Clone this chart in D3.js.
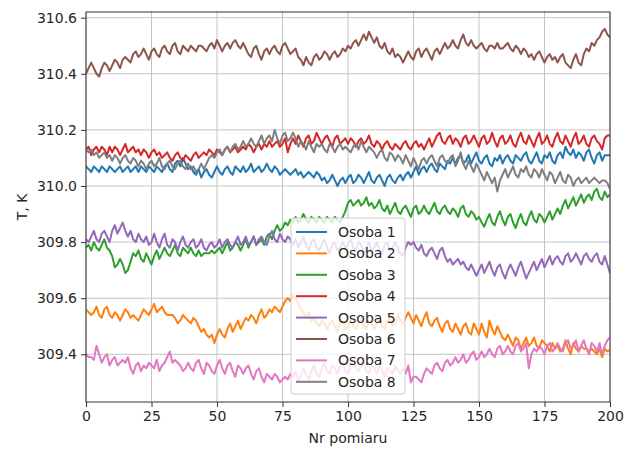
<!DOCTYPE html>
<html>
<head>
<meta charset="utf-8">
<script src="https://cdn.jsdelivr.net/npm/d3@7"></script>
<style>
  body { margin: 0; background: #fff; }
  text { font-family: "DejaVu Sans", sans-serif; fill: #262626; }
</style>
</head>
<body>
<div class="chart"></div>
<script>
var svgWidth = 638;
var svgHeight = 452;

var margin = { top: 12, right: 28, bottom: 50, left: 86 };
var width = svgWidth - margin.left - margin.right;
var height = svgHeight - margin.top - margin.bottom;

// readings, index 0..200
var osoba1 = [
  310.07,310.06,310.05,310.07,310.06,310.05,310.07,310.06,310.05,310.07,
  310.06,310.05,310.06,310.07,310.05,310.06,310.07,310.05,310.06,310.07,
  310.05,310.07,310.06,310.05,310.07,310.06,310.05,310.07,310.06,310.05,
  310.07,310.08,310.06,310.05,310.08,310.09,310.07,310.10,310.08,310.06,
  310.07,310.05,310.04,310.06,310.03,310.05,310.06,310.04,310.03,310.05,
  310.07,310.05,310.04,310.06,310.07,310.05,310.04,310.07,310.06,310.05,
  310.07,310.05,310.06,310.08,310.05,310.06,310.07,310.05,310.06,310.08,
  310.06,310.05,310.07,310.06,310.04,310.05,310.06,310.05,310.04,310.05,
  310.06,310.04,310.05,310.03,310.04,310.05,310.04,310.03,310.05,310.04,
  310.02,310.03,310.01,310.02,310.04,310.02,310.00,310.02,310.03,310.01,
  310.03,310.04,310.01,310.02,310.04,310.03,310.01,310.03,310.05,310.02,
  310.01,310.03,310.04,310.02,310.00,310.03,310.04,310.02,310.01,310.03,
  310.04,310.02,310.04,310.05,310.03,310.05,310.07,310.04,310.06,310.07,
  310.05,310.07,310.08,310.06,310.05,310.08,310.07,310.06,310.09,310.08,
  310.10,310.08,310.10,310.11,310.08,310.09,310.11,310.08,310.10,310.12,
  310.09,310.08,310.10,310.11,310.08,310.07,310.10,310.09,310.11,310.08,
  310.10,310.11,310.09,310.08,310.11,310.10,310.09,310.11,310.12,310.09,
  310.08,310.10,310.12,310.09,310.08,310.11,310.10,310.12,310.09,310.08,
  310.11,310.12,310.10,310.14,310.12,310.11,310.13,310.10,310.12,310.11,
  310.09,310.12,310.13,310.10,310.08,310.11,310.12,310.09,310.11,310.11,310.11
];
var osoba2 = [
  309.56,309.55,309.54,309.55,309.57,309.54,309.53,309.56,309.57,309.54,
  309.53,309.55,309.54,309.52,309.54,309.56,309.55,309.53,309.54,309.53,
  309.52,309.54,309.56,309.55,309.54,309.56,309.58,309.55,309.56,309.57,
  309.55,309.54,309.54,309.54,309.53,309.51,309.52,309.54,309.53,309.52,
  309.51,309.53,309.52,309.50,309.48,309.49,309.47,309.46,309.47,309.44,
  309.47,309.49,309.47,309.46,309.49,309.51,309.48,309.50,309.52,309.49,
  309.51,309.53,309.52,309.54,309.53,309.51,309.54,309.56,309.53,309.54,
  309.56,309.55,309.57,309.56,309.55,309.57,309.59,309.60,309.59,309.61,
  309.60,309.58,309.56,309.55,309.53,309.55,309.52,309.53,309.51,309.50,
  309.52,309.51,309.49,309.51,309.52,309.50,309.48,309.51,309.52,309.49,
  309.50,309.52,309.50,309.49,309.51,309.53,309.50,309.49,309.52,309.51,
  309.49,309.51,309.53,309.50,309.49,309.52,309.53,309.50,309.51,309.54,
  309.52,309.51,309.53,309.55,309.53,309.51,309.54,309.52,309.50,309.53,
  309.55,309.51,309.50,309.52,309.53,309.50,309.48,309.51,309.52,309.49,
  309.48,309.51,309.49,309.47,309.50,309.51,309.48,309.47,309.51,309.49,
  309.47,309.51,309.48,309.46,309.52,309.49,309.47,309.50,309.48,309.46,
  309.45,309.47,309.45,309.43,309.46,309.45,309.42,309.44,309.46,309.43,
  309.44,309.46,309.43,309.42,309.45,309.44,309.43,309.41,309.44,309.42,
  309.43,309.41,309.42,309.45,309.42,309.40,309.44,309.42,309.41,309.43,
  309.42,309.42,309.41,309.42,309.41,309.40,309.42,309.39,309.42,309.41,309.415
];
var osoba3 = [
  309.78,309.79,309.77,309.80,309.78,309.77,309.79,309.81,309.78,309.77,
  309.75,309.71,309.72,309.74,309.72,309.69,309.70,309.73,309.76,309.75,
  309.77,309.74,309.73,309.76,309.74,309.72,309.75,309.77,309.74,309.76,
  309.78,309.76,309.75,309.77,309.79,309.76,309.75,309.78,309.77,309.76,
  309.78,309.76,309.75,309.77,309.75,309.76,309.76,309.76,309.77,309.76,
  309.77,309.78,309.76,309.78,309.80,309.77,309.78,309.80,309.79,309.77,
  309.79,309.81,309.78,309.80,309.82,309.79,309.80,309.81,309.79,309.82,
  309.83,309.81,309.84,309.86,309.84,309.85,309.87,309.86,309.88,309.87,
  309.89,309.87,309.88,309.90,309.88,309.87,309.89,309.88,309.87,309.89,
  309.88,309.87,309.89,309.88,309.87,309.89,309.88,309.87,309.89,309.91,
  309.94,309.95,309.93,309.94,309.95,309.93,309.94,309.96,309.93,309.94,
  309.92,309.93,309.95,309.92,309.91,309.93,309.90,309.92,309.94,309.91,
  309.90,309.92,309.93,309.91,309.89,309.92,309.93,309.90,309.91,309.93,
  309.91,309.90,309.92,309.94,309.91,309.90,309.92,309.93,309.91,309.90,
  309.92,309.91,309.89,309.92,309.93,309.90,309.89,309.91,309.90,309.88,
  309.89,309.87,309.855,309.88,309.90,309.87,309.86,309.89,309.91,309.88,
  309.86,309.89,309.90,309.87,309.85,309.88,309.90,309.87,309.86,309.89,
  309.91,309.88,309.87,309.90,309.89,309.87,309.89,309.91,309.88,309.90,
  309.92,309.90,309.93,309.95,309.92,309.94,309.96,309.93,309.95,309.97,
  309.94,309.96,309.97,309.95,309.98,309.99,309.96,309.95,309.98,309.96,309.97
];
var osoba4 = [
  310.13,310.14,310.11,310.13,310.14,310.12,310.14,310.13,310.11,310.14,
  310.12,310.14,310.13,310.11,310.13,310.15,310.12,310.13,310.14,310.12,
  310.13,310.11,310.13,310.12,310.10,310.12,310.13,310.11,310.12,310.10,
  310.11,310.12,310.10,310.09,310.11,310.12,310.10,310.09,310.11,310.10,
  310.09,310.11,310.12,310.10,310.11,310.12,310.11,310.13,310.12,310.11,
  310.13,310.12,310.11,310.13,310.14,310.12,310.13,310.14,310.12,310.13,
  310.14,310.13,310.15,310.14,310.12,310.14,310.15,310.13,310.15,310.14,
  310.16,310.14,310.15,310.16,310.14,310.15,310.17,310.12,310.15,310.17,
  310.15,310.18,310.16,310.14,310.17,310.18,310.15,310.16,310.19,310.17,
  310.15,310.17,310.18,310.16,310.14,310.17,310.18,310.15,310.16,310.17,
  310.15,310.17,310.16,310.14,310.16,310.17,310.15,310.16,310.18,310.15,
  310.14,310.16,310.15,310.13,310.15,310.16,310.14,310.13,310.15,310.14,
  310.13,310.15,310.16,310.14,310.13,310.15,310.16,310.14,310.15,310.13,
  310.15,310.17,310.14,310.16,310.18,310.19,310.16,310.15,310.17,310.18,
  310.15,310.17,310.16,310.14,310.17,310.18,310.15,310.16,310.18,310.16,
  310.14,310.17,310.18,310.15,310.16,310.19,310.16,310.14,310.17,310.18,
  310.15,310.16,310.18,310.15,310.14,310.17,310.19,310.16,310.15,310.18,
  310.16,310.14,310.17,310.19,310.15,310.16,310.18,310.15,310.14,310.17,
  310.19,310.16,310.15,310.18,310.16,310.14,310.17,310.19,310.15,310.16,
  310.18,310.15,310.14,310.17,310.18,310.16,310.15,310.13,310.17,310.18,310.18
];
var osoba5 = [
  309.81,309.80,309.82,309.84,309.81,309.80,309.83,309.84,309.82,309.80,
  309.84,309.86,309.83,309.85,309.87,309.84,309.82,309.84,309.81,309.80,
  309.83,309.81,309.80,309.82,309.79,309.80,309.83,309.80,309.78,309.81,
  309.83,309.79,309.78,309.81,309.80,309.77,309.80,309.82,309.79,309.78,
  309.80,309.81,309.78,309.79,309.81,309.78,309.77,309.79,309.80,309.78,
  309.79,309.81,309.78,309.80,309.81,309.79,309.78,309.80,309.82,309.79,
  309.80,309.82,309.79,309.80,309.82,309.79,309.81,309.82,309.80,309.79,
  309.82,309.84,309.81,309.80,309.83,309.81,309.80,309.82,309.81,309.79,
  309.81,309.78,309.80,309.82,309.79,309.77,309.80,309.81,309.78,309.77,
  309.79,309.81,309.78,309.76,309.79,309.80,309.77,309.78,309.80,309.78,
  309.79,309.81,309.78,309.77,309.80,309.79,309.76,309.78,309.80,309.77,
  309.78,309.80,309.77,309.76,309.79,309.80,309.77,309.78,309.80,309.78,
  309.76,309.75,309.78,309.80,309.79,309.80,309.78,309.77,309.79,309.76,
  309.75,309.77,309.78,309.76,309.74,309.77,309.78,309.75,309.73,309.74,
  309.72,309.73,309.74,309.72,309.73,309.71,309.70,309.72,309.70,309.68,
  309.70,309.72,309.69,309.71,309.73,309.70,309.68,309.71,309.72,309.69,
  309.67,309.70,309.72,309.70,309.68,309.71,309.73,309.70,309.67,309.69,
  309.71,309.73,309.70,309.72,309.74,309.71,309.73,309.75,309.72,309.74,
  309.75,309.73,309.72,309.75,309.76,309.73,309.74,309.76,309.74,309.72,
  309.75,309.76,309.74,309.73,309.75,309.76,309.73,309.72,309.75,309.72,309.69
];
var osoba6 = [
  310.40,310.42,310.44,310.42,310.40,310.39,310.42,310.44,310.43,310.41,
  310.43,310.45,310.44,310.42,310.45,310.46,310.45,310.44,310.47,310.48,
  310.46,310.47,310.49,310.47,310.45,310.48,310.49,310.47,310.46,310.49,
  310.50,310.48,310.47,310.50,310.51,310.48,310.47,310.50,310.49,310.48,
  310.50,310.49,310.48,310.50,310.50,310.49,310.48,310.50,310.51,310.49,
  310.52,310.50,310.48,310.50,310.51,310.49,310.51,310.52,310.50,310.49,
  310.51,310.49,310.47,310.46,310.49,310.50,310.47,310.45,310.48,310.49,
  310.47,310.49,310.50,310.48,310.47,310.50,310.51,310.49,310.47,310.48,
  310.49,310.46,310.45,310.43,310.46,310.44,310.43,310.46,310.47,310.45,
  310.46,310.48,310.47,310.45,310.47,310.48,310.46,310.47,310.49,310.48,
  310.50,310.49,310.51,310.52,310.50,310.52,310.54,310.52,310.55,310.53,
  310.51,310.53,310.50,310.49,310.51,310.48,310.47,310.49,310.46,310.47,
  310.46,310.44,310.46,310.48,310.46,310.45,310.48,310.49,310.46,310.48,
  310.49,310.47,310.45,310.48,310.49,310.47,310.49,310.51,310.49,310.50,
  310.52,310.50,310.49,310.52,310.54,310.51,310.50,310.52,310.50,310.49,
  310.50,310.51,310.49,310.48,310.50,310.50,310.49,310.51,310.49,310.49,
  310.50,310.51,310.49,310.48,310.50,310.49,310.47,310.49,310.48,310.46,
  310.47,310.45,310.47,310.48,310.46,310.44,310.46,310.47,310.45,310.46,
  310.44,310.46,310.47,310.44,310.43,310.42,310.45,310.47,310.44,310.43,
  310.47,310.49,310.48,310.51,310.50,310.52,310.53,310.55,310.56,310.54,310.53
];
var osoba7 = [
  309.40,309.39,309.39,309.38,309.43,309.40,309.37,309.39,309.40,309.36,
  309.38,309.39,309.36,309.37,309.38,309.37,309.39,309.35,309.33,309.36,
  309.37,309.34,309.36,309.35,309.37,309.36,309.35,309.38,309.34,309.36,
  309.37,309.39,309.41,309.37,309.38,309.37,309.36,309.34,309.35,309.37,
  309.35,309.34,309.37,309.38,309.35,309.33,309.37,309.36,309.34,309.33,
  309.36,309.38,309.35,309.33,309.36,309.37,309.34,309.32,309.36,309.35,
  309.33,309.35,309.36,309.33,309.31,309.34,309.35,309.32,309.30,309.33,
  309.32,309.31,309.33,309.32,309.30,309.31,309.32,309.31,309.33,309.32,
  309.34,309.31,309.32,309.35,309.33,309.31,309.34,309.36,309.33,309.32,
  309.35,309.37,309.34,309.33,309.36,309.35,309.33,309.36,309.37,309.34,
  309.33,309.36,309.38,309.35,309.34,309.36,309.37,309.34,309.33,309.36,
  309.35,309.33,309.36,309.34,309.32,309.35,309.34,309.33,309.36,309.34,
  309.33,309.35,309.33,309.36,309.30,309.32,309.32,309.31,309.30,309.33,
  309.35,309.34,309.33,309.36,309.37,309.35,309.34,309.37,309.38,309.36,
  309.37,309.39,309.37,309.38,309.40,309.37,309.38,309.40,309.41,309.38,
  309.39,309.41,309.39,309.40,309.42,309.40,309.39,309.42,309.43,309.40,
  309.41,309.43,309.41,309.40,309.43,309.44,309.41,309.42,309.44,309.35,
  309.40,309.42,309.41,309.43,309.42,309.40,309.43,309.44,309.41,309.42,
  309.44,309.42,309.41,309.44,309.45,309.42,309.43,309.45,309.41,309.43,
  309.45,309.42,309.40,309.44,309.43,309.41,309.44,309.40,309.43,309.45,309.46
];
var osoba8 = [
  310.13,310.12,310.13,310.11,310.12,310.10,310.11,310.12,310.10,310.11,
  310.09,310.11,310.10,310.08,310.10,310.11,310.09,310.08,310.10,310.09,
  310.07,310.09,310.08,310.06,310.08,310.09,310.07,310.08,310.10,310.07,
  310.06,310.08,310.09,310.07,310.06,310.08,310.09,310.07,310.06,310.08,
  310.06,310.07,310.05,310.06,310.08,310.06,310.08,310.10,310.11,310.10,
  310.12,310.13,310.11,310.13,310.14,310.12,310.14,310.15,310.13,310.14,
  310.16,310.14,310.15,310.17,310.15,310.14,310.16,310.18,310.15,310.17,
  310.18,310.16,310.20,310.17,310.15,310.18,310.19,310.16,310.17,310.19,
  310.17,310.14,310.16,310.15,310.13,310.16,310.14,310.12,310.15,310.14,
  310.15,310.13,310.12,310.15,310.14,310.12,310.14,310.15,310.13,310.14,
  310.13,310.12,310.14,310.15,310.13,310.16,310.14,310.12,310.14,310.13,
  310.12,310.10,310.12,310.13,310.10,310.09,310.12,310.11,310.09,310.11,
  310.10,310.08,310.11,310.09,310.07,310.10,310.08,310.06,310.09,310.10,
  310.08,310.10,310.11,310.09,310.07,310.10,310.11,310.09,310.08,310.10,
  310.11,310.07,310.09,310.12,310.08,310.06,310.09,310.07,310.05,310.08,
  310.06,310.04,310.02,310.05,310.03,310.01,310.03,309.98,310.02,310.04,
  310.06,310.03,310.05,310.07,310.04,310.03,310.06,310.05,310.07,310.04,
  310.03,310.06,310.05,310.03,310.06,310.04,310.02,310.05,310.04,310.01,
  310.03,310.05,310.02,310.01,310.04,310.03,310.00,310.02,310.03,310.01,
  310.02,310.03,310.01,310.02,310.03,310.02,310.01,310.02,310.02,310.01,309.99
];

var seriesNames = ["Osoba 1", "Osoba 2", "Osoba 3", "Osoba 4", "Osoba 5", "Osoba 6", "Osoba 7", "Osoba 8"];
var seriesValues = [osoba1, osoba2, osoba3, osoba4, osoba5, osoba6, osoba7, osoba8];
var colors = ["#1f77b4", "#ff7f0e", "#2ca02c", "#d62728", "#9467bd", "#8c564b", "#e377c2", "#7f7f7f"];

var xTicks = [0, 25, 50, 75, 100, 125, 150, 175, 200];
var yTicks = [309.4, 309.6, 309.8, 310.0, 310.2, 310.4, 310.6];

var svg = d3.select(".chart")
  .append("svg")
  .attr("width", svgWidth)
  .attr("height", svgHeight);

var chartGroup = svg.append("g")
  .attr("transform", `translate(${margin.left}, ${margin.top})`);

var xScale = d3.scaleLinear().domain([0, 200]).range([0, width]);
var yScale = d3.scaleLinear().domain([309.2299, 310.6203]).range([height, 0]);

// grid
chartGroup.append("g")
  .selectAll("line.vx")
  .data(xTicks)
  .enter()
  .append("line")
  .attr("x1", d => xScale(d)).attr("x2", d => xScale(d))
  .attr("y1", 0).attr("y2", height)
  .attr("stroke", "#c4c4c4").attr("stroke-width", 1);

chartGroup.append("g")
  .selectAll("line.hy")
  .data(yTicks)
  .enter()
  .append("line")
  .attr("x1", 0).attr("x2", width)
  .attr("y1", d => yScale(d)).attr("y2", d => yScale(d))
  .attr("stroke", "#c4c4c4").attr("stroke-width", 1);

svg.append("defs").append("clipPath").attr("id", "clip")
  .append("rect").attr("width", width).attr("height", height);

var line = d3.line()
  .x((d, i) => xScale(i))
  .y(d => yScale(d));

var linesGroup = chartGroup.append("g").attr("clip-path", "url(#clip)");
seriesValues.forEach(function(vals, k) {
  linesGroup.append("path")
    .datum(vals)
    .attr("d", line)
    .attr("fill", "none")
    .attr("stroke", colors[k])
    .attr("stroke-width", 2)
    .attr("stroke-linejoin", "round")
    .attr("stroke-linecap", "square");
});

// axes
var bottomAxis = d3.axisBottom(xScale).tickValues(xTicks).tickSize(5).tickPadding(4)
  .tickFormat(d3.format("d"));
var leftAxis = d3.axisLeft(yScale).tickValues(yTicks).tickSize(5).tickPadding(4)
  .tickFormat(d3.format(".1f"));

var xAxis = chartGroup.append("g")
  .attr("transform", `translate(0, ${height})`)
  .call(bottomAxis);
var yAxis = chartGroup.append("g")
  .call(leftAxis);

[xAxis, yAxis].forEach(function(ax) {
  ax.select(".domain").remove();
  ax.selectAll(".tick line").attr("stroke", "#333").attr("stroke-width", 1);
  ax.selectAll(".tick text")
    .attr("font-family", "DejaVu Sans")
    .attr("font-size", "14px")
    .attr("fill", "#262626");
});

// frame
chartGroup.append("rect")
  .attr("x", 0).attr("y", 0)
  .attr("width", width).attr("height", height)
  .attr("fill", "none")
  .attr("stroke", "#333")
  .attr("stroke-width", 1);

// axis labels
svg.append("text")
  .attr("x", margin.left + width / 2)
  .attr("y", 443)
  .attr("text-anchor", "middle")
  .attr("font-size", "14px")
  .text("Nr pomiaru");

svg.append("text")
  .attr("transform", "rotate(-90)")
  .attr("x", -(margin.top + height / 2))
  .attr("y", 27)
  .attr("text-anchor", "middle")
  .attr("font-size", "14px")
  .text("T, K");

// legend
var legend = svg.append("g").attr("transform", "translate(291, 218)");
legend.append("rect")
  .attr("width", 114).attr("height", 176)
  .attr("rx", 3).attr("ry", 3)
  .attr("fill", "#fff").attr("fill-opacity", 0.8)
  .attr("stroke", "#cccccc").attr("stroke-width", 1);

var entries = legend.selectAll("g.entry")
  .data(seriesNames)
  .enter()
  .append("g")
  .attr("transform", (d, i) => `translate(0, ${14 + i * 21.4})`);

entries.append("line")
  .attr("x1", 5).attr("x2", 36)
  .attr("y1", 0).attr("y2", 0)
  .attr("stroke", (d, i) => colors[i])
  .attr("stroke-width", 2);

entries.append("text")
  .attr("x", 47)
  .attr("y", 0)
  .attr("dy", "0.36em")
  .attr("font-size", "14px")
  .text(d => d);
</script>
</body>
</html>
